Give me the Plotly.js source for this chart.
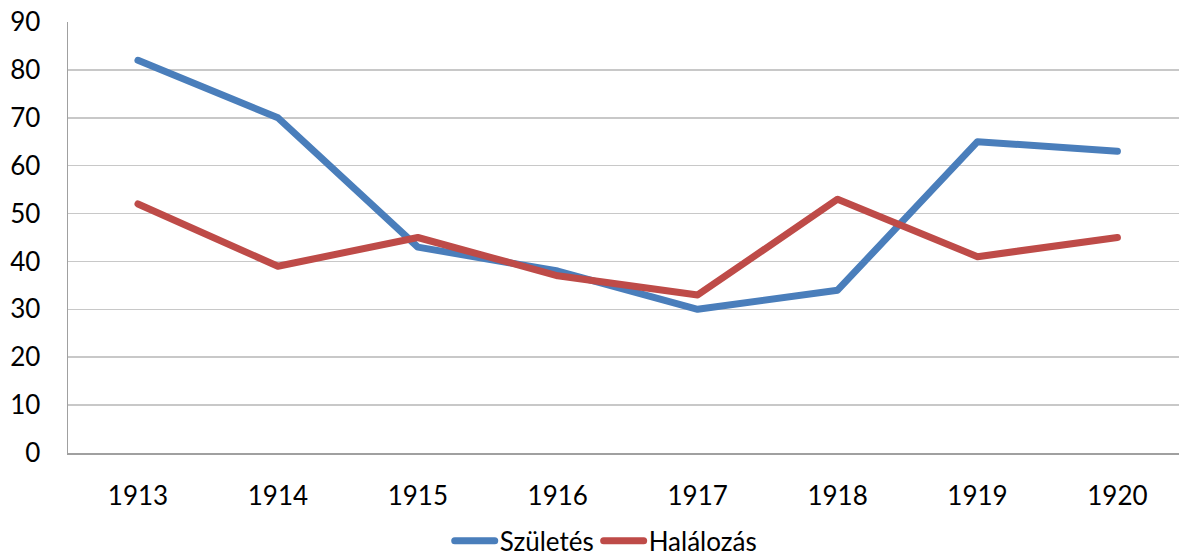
<!DOCTYPE html>
<html>
<head>
<meta charset="utf-8">
<script src="https://cdn.plot.ly/plotly-3.0.1.min.js"></script>
<style>
html,body{margin:0;padding:0;background:#fff;}#chart{width:1179px;height:556px;}
.scatterlayer path.js-line, .legend path.js-line {stroke-linecap: round !important; stroke-linejoin: round !important;}
</style>
</head>
<body>
<div id="chart"></div>
<script>
const years = ['1913','1914','1915','1916','1917','1918','1919','1920'];
const szuletes = [82, 70, 43, 38, 30, 34, 65, 63];
const halalozas = [52, 39, 45, 37, 33, 53, 41, 45];
const yTicks = [0,10,20,30,40,50,60,70,80,90];

const font = {family: 'Lato, "Open Sans", sans-serif', size: 26, color: '#000'};

const traces = [
  {x: years, y: szuletes, name: 'Születés', type: 'scatter', mode: 'lines',
   line: {color: '#4A7EBB', width: 7}},
  {x: years, y: halalozas, name: 'Halálozás', type: 'scatter', mode: 'lines',
   line: {color: '#BE4B48', width: 7}}
];

const layout = {
  width: 1179, height: 556,
  margin: {l: 68, r: 0, t: 22, b: 103, autoexpand: false},
  paper_bgcolor: '#fff', plot_bgcolor: '#fff',
  font: font,
  showlegend: true,
  legend: {orientation: 'h', x: 0.484, xanchor: 'center', y: -0.204, yanchor: 'middle',
           font: font, itemwidth: 40, tracegroupgap: 0},
  xaxis: {type: 'category', range: [-0.5, 7.44], showgrid: false, zeroline: false,
          showline: true, linecolor: '#A0A0A0', linewidth: 1.5, ticks: '', ticklabelstandoff: 19,
          tickfont: font, fixedrange: true},
  yaxis: {range: [0, 90], tickvals: yTicks, ticktext: yTicks.map(String), showgrid: true,
          gridcolor: '#C8C8C8', gridwidth: 1.5, zeroline: false, showline: true,
          linecolor: '#A0A0A0', linewidth: 1.5, ticks: '', ticklabelstandoff: 21,
          tickfont: font, fixedrange: true}
};

Plotly.newPlot('chart', traces, layout, {displayModeBar: false, staticPlot: true});
</script>
</body>
</html>
